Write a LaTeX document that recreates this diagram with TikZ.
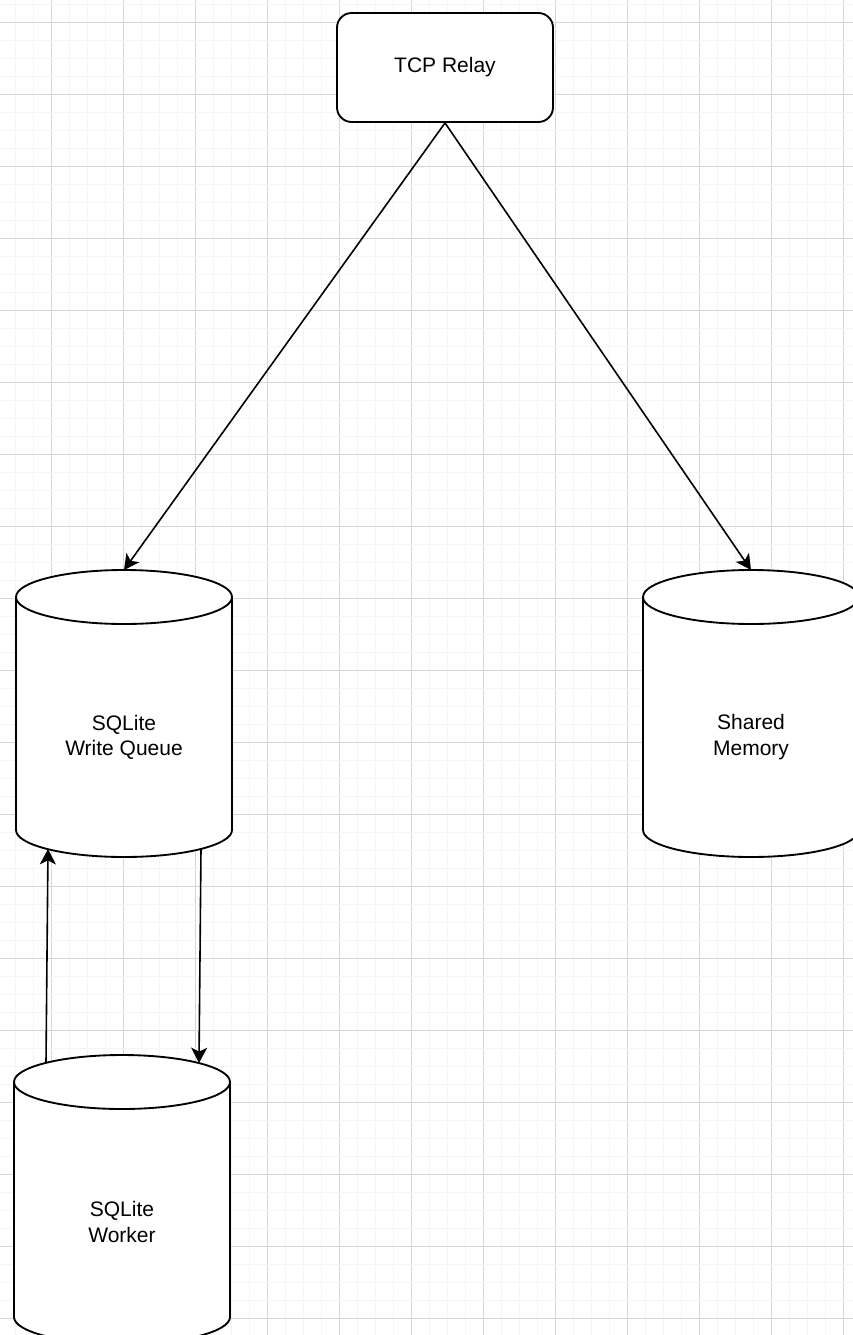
\documentclass[tikz,border=0pt]{standalone}
\usepackage{fontspec}
\setmainfont{Liberation Sans}
\usetikzlibrary{arrows.meta}

% database cylinder: centre x, top y, bottom y (pixel units)
\newcommand\dbcyl[3]{%
  \filldraw[cyl] (#1-108,#2+27) -- (#1-108,#3-27)
    arc[start angle=180,end angle=360,x radius=81pt,y radius=20.25pt]
    -- (#1+108,#2+27)
    arc[start angle=0,end angle=180,x radius=81pt,y radius=20.25pt] -- cycle;
  \draw[cyl,fill=none] (#1-108,#2+27)
    arc[start angle=180,end angle=360,x radius=81pt,y radius=20.25pt];
}

\tikzset{
  tipmark/.tip={Stealth[length=11.5pt,width=12pt,inset=3pt]}
}

\begin{document}
\begin{tikzpicture}[x=0.75pt,y=-0.75pt,
  txt/.style={font=\fontsize{15.75}{18.9}\selectfont, align=center},
  box/.style={txt, draw, line width=1.4pt, rounded corners=11pt, fill=white,
              minimum width=162pt, minimum height=81.75pt, inner sep=0pt},
  cyl/.style={draw, line width=1.4pt, fill=white},
  link/.style={line width=1.2pt, -tipmark},
  gminor/.style={draw=black!4, line width=0.75pt},
  gmajor/.style={draw=black!16, line width=0.75pt}]

\useasboundingbox (0,0) rectangle (853,1335);
\fill[white] (0,0) rectangle (853,1335);

% background grid
\foreach \k in {0,...,46} {
  \pgfmathtruncatemacro\m{mod(\k,4)}
  \ifnum\m=2 \draw[gmajor] (15+18*\k,0) -- (15+18*\k,1335);
  \else \draw[gminor] (15+18*\k,0) -- (15+18*\k,1335); \fi
}
\foreach \k in {0,...,73} {
  \pgfmathtruncatemacro\m{mod(\k,4)}
  \ifnum\m=1 \draw[gmajor] (0,4+18*\k) -- (853,4+18*\k);
  \else \draw[gminor] (0,4+18*\k) -- (853,4+18*\k); \fi
}

% relay
\node[box] (relay) at (445,67.5) {TCP Relay};

% storage cylinders
\dbcyl{124}{570}{857}
\dbcyl{751}{570}{857}
\dbcyl{122}{1055}{1344}

\node[txt] (queue) at (124,737) {SQLite\\Write Queue};
\node[txt] (shm) at (751,737) {Shared\\Memory};
\node[txt] (worker) at (122,1222) {SQLite\\Worker};

% connector end points on the cylinder rims
\coordinate (queueTop) at (124,570);
\coordinate (shmTop) at (751,570);
\coordinate (queueOutL) at (48,849);
\coordinate (queueOutR) at (201,849);
\coordinate (workerInL) at (46,1063);
\coordinate (workerInR) at (199,1063);

% connectors
\draw[link] (relay.south) -- (queueTop);
\draw[link] (relay.south) -- (shmTop);
\draw[link] (workerInL) -- (queueOutL);
\draw[link] (queueOutR) -- (workerInR);

\end{tikzpicture}
\end{document}
